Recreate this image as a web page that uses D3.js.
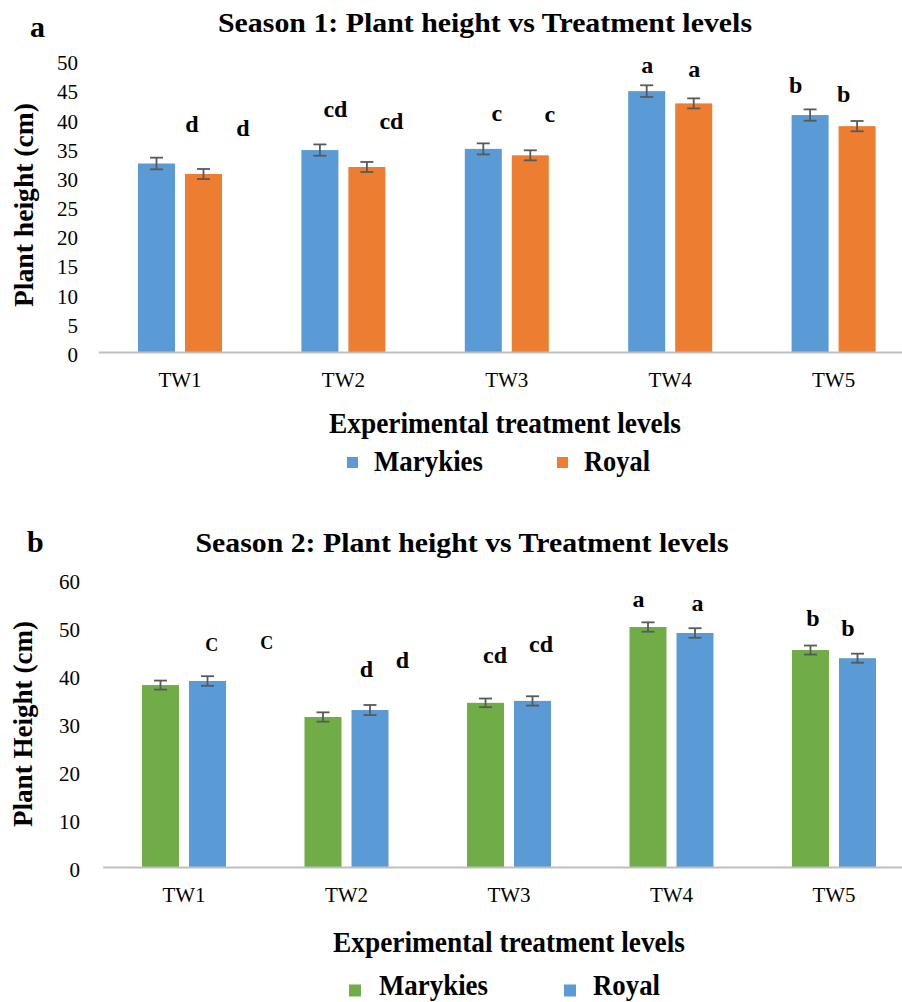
<!DOCTYPE html>
<html>
<head>
<meta charset="utf-8">
<script src="https://cdn.jsdelivr.net/npm/d3@7/dist/d3.min.js"></script>
<style>
  html, body { margin: 0; padding: 0; background: #fff; }
  svg { display: block; }
  text { font-family: "Liberation Serif", "Times New Roman", serif; fill: #000; }
</style>
</head>
<body>
<svg id="chart" width="902" height="1002"></svg>
<script>
// ---------- DATA ----------
const categories = ["TW1", "TW2", "TW3", "TW4", "TW5"];
const seriesNames = ["Marykies", "Royal"];

// Season 1 (panel a)
const s1Marykies = [32.3, 34.6, 34.8, 44.7, 40.6];
const s1Royal = [30.5, 31.7, 33.7, 42.6, 38.7];
const s1MarykiesErr = [1.0, 0.97, 0.95, 1.0, 0.97];
const s1RoyalErr = [0.86, 0.86, 0.86, 0.86, 0.88];
const s1MarykiesLetters = ["d", "cd", "c", "a", "b"];
const s1RoyalLetters = ["d", "cd", "c", "a", "b"];
const s1Ticks = [0, 5, 10, 15, 20, 25, 30, 35, 40, 45, 50];

// Season 2 (panel b)
const s2Marykies = [37.9, 31.25, 34.2, 50.0, 45.2];
const s2Royal = [38.75, 32.7, 34.6, 48.75, 43.5];
const s2MarykiesErr = [0.94, 0.97, 0.9, 0.97, 0.94];
const s2RoyalErr = [1.0, 1.05, 0.97, 1.0, 0.94];
const s2MarykiesLetters = ["C", "d", "cd", "a", "b"];
const s2RoyalLetters = ["C", "d", "cd", "a", "b"];
const s2Ticks = [0, 10, 20, 30, 40, 50, 60];

// ---------- LAYOUT (annotation placement) ----------
// letter baseline height in data units, and horizontal offset (px) from the bar centre
const s1LetterY = [[37.7, 40.2, 39.6, 47.8, 44.3], [37.0, 38.2, 39.4, 47.1, 42.8]];
const s1LetterDx = [[35.5, 15.5, 13.5, 0.5, -14.5], [39.5, 24.5, 19.5, 0.5, -13.5]];
const s2LetterY = [[45.0, 39.6, 42.5, 54.2, 50.2], [45.4, 41.5, 44.8, 53.3, 48.1]];
const s2LetterDx = [[51.2, 43.5, 9.5, -9.5, 2.5], [59.2, 32.5, 8.5, 2.5, -9.5]];

const panels = [
  {
    tag: "a", tagX: 30, tagY: 37,
    title: "Season 1: Plant height vs Treatment levels", titleX: 485, titleY: 32, titleLen: 534,
    yTitle: "Plant height (cm)", yTitleX: 33, yTitleY: 205, yTitleLen: 204,
    values: [s1Marykies, s1Royal], errs: [s1MarykiesErr, s1RoyalErr],
    letters: [s1MarykiesLetters, s1RoyalLetters], letterY: s1LetterY, letterDx: s1LetterDx,
    letterSize: [24, 24, 24, 24, 24],
    ticks: s1Ticks, yDomain: [0, 50], yRange: [352, 60.2],
    xRange: [98.3, 98.3 + 5 * 163.4], tickLabelX: 78,
    colors: ["#5B9BD5", "#ED7D31"],
    xTitleY: 433, xTitleX: 505, xTitleLen: 352,
    legendY: 471, sqCenter: 462.5,
    legend: [{sq: 347, tx: 374, len: 109}, {sq: 557, tx: 584, len: 66}], sqSize: 11
  },
  {
    tag: "b", tagX: 27, tagY: 552,
    title: "Season 2: Plant height vs Treatment levels", titleX: 462, titleY: 552, titleLen: 533,
    yTitle: "Plant Height (cm)", yTitleX: 32, yTitleY: 724, yTitleLen: 206,
    values: [s2Marykies, s2Royal], errs: [s2MarykiesErr, s2RoyalErr],
    letters: [s2MarykiesLetters, s2RoyalLetters], letterY: s2LetterY, letterDx: s2LetterDx,
    letterSize: [18, 24, 24, 24, 24],
    ticks: s2Ticks, yDomain: [0, 60], yRange: [867, 579],
    xRange: [102.75, 102.75 + 5 * 162.5], tickLabelX: 80,
    colors: ["#70AD47", "#5B9BD5"],
    xTitleY: 952, xTitleX: 509, xTitleLen: 352,
    legendY: 995, sqCenter: 990.5,
    legend: [{sq: 349, tx: 379, len: 109}, {sq: 564, tx: 593, len: 67}], sqSize: 12
  }
];

const svg = d3.select("#chart");

panels.forEach(p => {
  const g = svg.append("g");
  const y = d3.scaleLinear().domain(p.yDomain).range(p.yRange);
  const x0 = d3.scaleBand().domain(categories).range(p.xRange).padding(0);
  const groupW = 84;
  const x1 = d3.scaleBand().domain(seriesNames).range([0, groupW]).paddingInner(10 / 47).paddingOuter(0);
  const gx = c => x0(c) + x0.bandwidth() / 2 - groupW / 2;

  // Panel tag
  g.append("text").attr("x", p.tagX).attr("y", p.tagY)
    .attr("font-size", 30).attr("font-weight", "bold").text(p.tag);

  // Title
  g.append("text").attr("x", p.titleX).attr("y", p.titleY)
    .attr("text-anchor", "middle").attr("font-size", 28).attr("font-weight", "bold")
    .attr("textLength", p.titleLen).attr("lengthAdjust", "spacingAndGlyphs")
    .text(p.title);

  // Y tick labels (no gridlines)
  g.selectAll(".ytick").data(p.ticks).enter().append("text")
    .attr("x", p.tickLabelX).attr("y", d => y(d) + 10)
    .attr("text-anchor", "end").attr("font-size", 21).text(d => d);

  // Y axis title
  g.append("text")
    .attr("transform", `translate(${p.yTitleX},${p.yTitleY}) rotate(-90)`)
    .attr("text-anchor", "middle").attr("font-size", 27).attr("font-weight", "bold")
    .attr("textLength", p.yTitleLen).attr("lengthAdjust", "spacingAndGlyphs")
    .text(p.yTitle);

  // Bars
  seriesNames.forEach((s, si) => {
    const vals = p.values[si];
    g.selectAll(".bar" + si).data(categories).enter().append("rect")
      .attr("x", c => gx(c) + x1(s))
      .attr("y", (c, i) => y(vals[i]))
      .attr("width", x1.bandwidth())
      .attr("height", (c, i) => y(0) - y(vals[i]))
      .attr("fill", p.colors[si]);

    // Error bars
    const errs = p.errs[si];
    const eb = g.selectAll(".err" + si).data(categories).enter().append("g")
      .attr("stroke", "#595959").attr("stroke-width", 1.8);
    const cx = c => gx(c) + x1(s) + x1.bandwidth() / 2;
    eb.append("line").attr("x1", cx).attr("x2", cx)
      .attr("y1", (c, i) => y(vals[i] + errs[i])).attr("y2", (c, i) => y(vals[i] - errs[i]));
    eb.append("line").attr("x1", c => cx(c) - 6.5).attr("x2", c => cx(c) + 6.5)
      .attr("y1", (c, i) => y(vals[i] + errs[i])).attr("y2", (c, i) => y(vals[i] + errs[i]));
    eb.append("line").attr("x1", c => cx(c) - 6.5).attr("x2", c => cx(c) + 6.5)
      .attr("y1", (c, i) => y(vals[i] - errs[i])).attr("y2", (c, i) => y(vals[i] - errs[i]));

    // Significance letters
    g.selectAll(".let" + si).data(categories).enter().append("text")
      .attr("x", (c, i) => cx(c) + p.letterDx[si][i])
      .attr("y", (c, i) => y(p.letterY[si][i]))
      .attr("text-anchor", "middle").attr("font-weight", "bold")
      .attr("font-size", (c, i) => p.letterSize[i])
      .text((c, i) => p.letters[si][i]);
  });

  // X axis
  const axis = g.append("g").attr("transform", `translate(0,${y(0)})`)
    .call(d3.axisBottom(x0).tickSize(0).tickSizeOuter(0));
  axis.select(".domain").attr("stroke", "#bfbfbf").attr("stroke-width", 2);
  axis.selectAll(".tick text").attr("y", 35).attr("dy", 0)
    .attr("font-size", 21).attr("fill", "#000")
    .attr("font-family", "Liberation Serif, Times New Roman, serif");

  // X axis title
  g.append("text").attr("x", p.xTitleX).attr("y", p.xTitleY)
    .attr("text-anchor", "middle").attr("font-size", 29).attr("font-weight", "bold")
    .attr("textLength", p.xTitleLen).attr("lengthAdjust", "spacingAndGlyphs")
    .text("Experimental treatment levels");

  // Legend
  seriesNames.forEach((s, si) => {
    const L = p.legend[si];
    g.append("rect").attr("x", L.sq).attr("y", p.sqCenter - p.sqSize / 2)
      .attr("width", p.sqSize).attr("height", p.sqSize).attr("fill", p.colors[si]);
    g.append("text").attr("x", L.tx).attr("y", p.legendY)
      .attr("font-size", 29).attr("font-weight", "bold")
      .attr("textLength", L.len).attr("lengthAdjust", "spacingAndGlyphs")
      .text(s);
  });
});
</script>
</body>
</html>
